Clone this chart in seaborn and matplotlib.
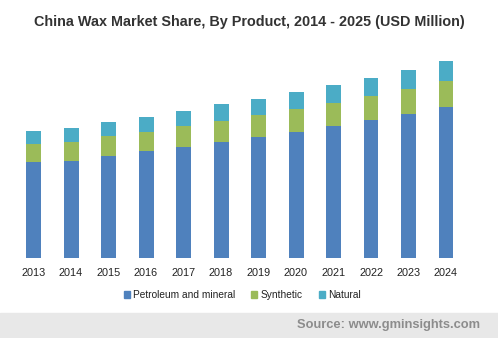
import matplotlib
matplotlib.use("Agg")
import matplotlib.pyplot as plt
import seaborn as sns
import pandas as pd
import numpy as np
from matplotlib.patches import Rectangle

years = ["2013", "2014", "2015", "2016", "2017", "2018", "2019", "2020", "2021", "2022", "2023", "2024"]
petroleum = [96, 97, 102, 107, 111, 116, 121, 126, 132, 138, 144, 151]
synthetic = [18, 19, 20, 19, 21, 21, 22, 23, 23, 24, 25, 26]
natural = [13, 14, 14, 15, 15, 17, 16, 17, 18, 18, 19, 20]
series_names = ["Petroleum and mineral", "Synthetic", "Natural"]
colors = ["#4F81BD", "#9BBB59", "#4BACC6"]

sns.set_theme(style="white")
plt.rcParams['font.family'] = ['Liberation Sans', 'DejaVu Sans']

W, H = 498, 338
fig = plt.figure(figsize=(W / 100, H / 100), dpi=100)
left = 14.75 / W
width = 450 / W
bottom = (H - 258) / H
height = 208 / H
ax = fig.add_axes([left, bottom, width, height])

df = pd.DataFrame({"year": years, "Petroleum and mineral": petroleum,
                   "Synthetic": synthetic, "Natural": natural})
bottoms = np.zeros(len(years))
for name, col in zip(series_names, colors):
    sns.barplot(data=df, x="year", y=name, color=col, bottom=bottoms, width=0.4,
                ax=ax, saturation=1, label=name, linewidth=0, edgecolor=col)
    bottoms = bottoms + df[name].to_numpy()

ax.set_ylim(0, 208)
ax.set_xlim(-0.5, len(years) - 0.5)
ax.set_xlabel("")
ax.set_ylabel("")
ax.set_yticks([])
for s in ax.spines.values():
    s.set_visible(False)
ax.tick_params(axis="x", length=0, pad=7, labelsize=7.8, labelcolor="#222222")

fig.text(0.5, 1 - 22 / H, "China Wax Market Share, By Product, 2014 - 2025 (USD Million)",
         ha="center", va="center", fontsize=10.4, fontweight="bold", color="#333333")

leg = ax.get_legend()
if leg is not None:
    leg.remove()
handles = [Rectangle((0, 0), 1, 1, color=c) for c in colors]
fig.legend(handles, series_names, loc="center", bbox_to_anchor=(242 / W, 1 - 295 / H),
           ncol=3, frameon=False, fontsize=7.3, handlelength=0.6, handleheight=0.6,
           handletextpad=0.3, columnspacing=1.6, labelcolor="#222222")

fig.patches.append(Rectangle((0, 0), 1, (H - 313) / H, transform=fig.transFigure,
                             color="#E8E8E8", zorder=0))
fig.text(480 / W, 1 - 325 / H, "Source: www.gminsights.com", ha="right", va="center",
         fontsize=9.3, fontweight="bold", color="#8C8C8C")

fig.savefig("out.png", dpi=100)
